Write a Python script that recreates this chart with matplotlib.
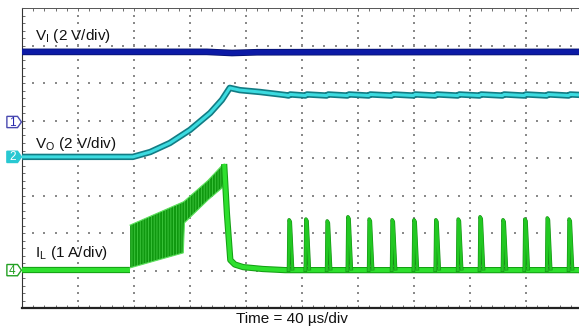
import numpy as np
import matplotlib.pyplot as plt
from matplotlib.patches import Polygon
from matplotlib.ticker import MultipleLocator
import matplotlib.patheffects as pe

plt.rcParams['font.family'] = ['Liberation Sans', 'DejaVu Sans']
plt.rcParams['hatch.linewidth'] = 0.6

# time axis in divisions (40 us/div), levels in screen divisions (0..8)
vi_t = [0.0, 3.3, 3.6, 3.75, 4.2, 10.2]
vi_y = [6.83, 6.83, 6.81, 6.80, 6.82, 6.83]

vo_t = [0.0, 1.98, 2.29, 2.64, 3.0, 3.36, 3.57, 3.71, 3.89, 4.25, 4.70]
vo_y = [4.03, 4.03, 4.16, 4.40, 4.75, 5.20, 5.55, 5.87, 5.81, 5.76, 5.68]
vo_lo, vo_hi = 5.665, 5.695   # ripple at each pulse

il_t = [0.0, 1.93]
il_y = [1.01, 1.01]

# switching burst envelope
env_t = [1.93, 2.88, 2.90, 3.32, 3.57, 3.61]
env_hi = [2.21, 2.83, 2.85, 3.40, 3.80, 3.84]
env_lo = [1.07, 1.47, 2.27, 2.88, 3.20, 3.40]

# fall and burst-mode tail
tail_t = [3.61, 3.66, 3.72, 3.80, 3.95, 4.30, 4.70, 10.2]
tail_y = [3.84, 2.50, 1.28, 1.16, 1.09, 1.04, 1.01, 1.01]

pulse_t = [4.77, 5.07, 5.45, 5.82, 6.20, 6.61, 7.00, 7.39, 7.79, 8.18, 8.59, 8.98, 9.38, 9.77]
pulse_pk = [2.35, 2.37, 2.32, 2.43, 2.37, 2.35, 2.35, 2.35, 2.37, 2.43, 2.35, 2.37, 2.40, 2.37]

fig = plt.figure(figsize=(5.79, 3.30), dpi=100)
ax = fig.add_axes([22 / 579, 22 / 330, 560 / 579, 300 / 330])
ax.set_xlim(0, 10)
ax.set_ylim(0, 8)

# dotted graticule
for gx in range(1, 10):
    gy = np.arange(0.2, 8, 0.2)
    ax.scatter(np.full_like(gy, gx), gy, s=0.9, marker='s', color='#8a8a8a', lw=0, zorder=1)
for gy in range(1, 8):
    gx = np.arange(0.2, 10.2, 0.2)
    ax.scatter(gx, np.full_like(gx, gy), s=0.9, marker='s', color='#8a8a8a', lw=0, zorder=1)

ax.xaxis.set_major_locator(MultipleLocator(1))
ax.yaxis.set_major_locator(MultipleLocator(1))
ax.xaxis.set_minor_locator(MultipleLocator(0.2))
ax.yaxis.set_minor_locator(MultipleLocator(0.2))
ax.tick_params(which='both', direction='in', top=True, bottom=True, left=True, right=False,
               labelbottom=False, labelleft=False, length=2.2, width=0.6, color='#555555')
ax.spines['right'].set_visible(False)
ax.spines['bottom'].set_linewidth(1.6)
ax.spines['bottom'].set_color('#222222')
ax.spines['left'].set_linewidth(0.8)
ax.spines['left'].set_color('#333333')
ax.spines['top'].set_linewidth(0.7)
ax.spines['top'].set_color('#555555')

# V_I trace
ax.plot(vi_t, vi_y, color='#0c1aa6', lw=3.6, solid_capstyle='butt', zorder=4,
        path_effects=[pe.Stroke(linewidth=4.8, foreground='#06126e'), pe.Normal()])

# V_O trace with small ripple at each burst
vt = list(vo_t)
vy = list(vo_y)
for t in pulse_t:
    vt += [t - 0.01, t + 0.02]
    vy += [vo_lo, vo_hi]
vt.append(10.2)
vy.append(vo_lo)
ax.plot(vt, vy, color='#3cdbe0', lw=2.2, solid_capstyle='butt', zorder=4,
        path_effects=[pe.Stroke(linewidth=4.6, foreground='#127c84'), pe.Normal()])

# I_L trace
ax.plot(il_t, il_y, color='#2ee02e', lw=3.0, solid_capstyle='butt', zorder=4,
        path_effects=[pe.Stroke(linewidth=4.5, foreground='#14a014'), pe.Normal()])
ax.fill_between(env_t, env_lo, env_hi, facecolor='#0f980f', edgecolor='#40c840',
                hatch='||||||', lw=0, zorder=3)
ax.plot(env_t, env_hi, color='#5ee05e', lw=0.8, zorder=4)
ax.plot(env_t, env_lo, color='#5ee05e', lw=0.8, zorder=4)
ax.plot(tail_t, tail_y, color='#2ee02e', lw=3.0, solid_capstyle='butt', zorder=4,
        path_effects=[pe.Stroke(linewidth=4.5, foreground='#14a014'), pe.Normal()])
for t, pk in zip(pulse_t, pulse_pk):
    ax.plot([t - 0.01, t, t + 0.02, t + 0.06], [1.01, pk, pk - 0.05, 1.05],
            color='#22c822', lw=1.8, zorder=5,
            path_effects=[pe.Stroke(linewidth=2.6, foreground='#138c13'), pe.Normal()])

# channel labels
ax.text(0.24, 7.14, r'V$_\mathregular{I}$ (2 V/div)', fontsize=11, color='#111111', zorder=6)
ax.text(0.24, 4.27, r'V$_\mathregular{O}$ (2 V/div)', fontsize=11, color='#111111', zorder=6)
ax.text(0.24, 1.36, r'I$_\mathregular{L}$ (1 A/div)', fontsize=11, color='#111111', zorder=6)

# ground markers
def marker(y, num, face, edge, tc):
    pts = [(-0.27, y - 0.15), (-0.08, y - 0.15), (-0.01, y), (-0.08, y + 0.15), (-0.27, y + 0.15)]
    ax.add_patch(Polygon(pts, closed=True, facecolor=face, edgecolor=edge, lw=1.0,
                         clip_on=False, zorder=7))
    ax.text(-0.175, y - 0.015, num, fontsize=8.5, color=tc, ha='center', va='center',
            clip_on=False, zorder=8)

marker(4.96, '1', '#ffffff', '#4a4ab0', '#2828b0')
marker(4.03, '2', '#28c8d2', '#28c8d2', '#ffffff')
marker(1.01, '4', '#ffffff', '#22a022', '#22a022')

fig.text(292 / 579, 1 - 323 / 330, 'Time = 40 µs/div', fontsize=11, color='#111111',
         ha='center', va='baseline')

fig.savefig('out.png', dpi=100)
